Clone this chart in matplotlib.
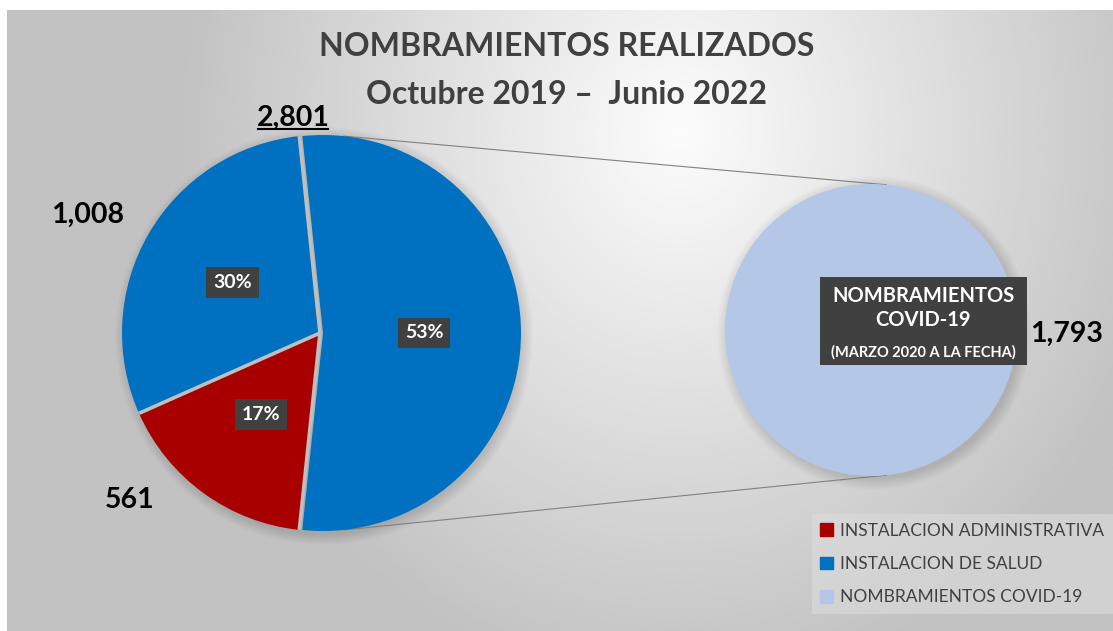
import numpy as np
import matplotlib
matplotlib.use('Agg')
import matplotlib.pyplot as plt
from matplotlib.patches import Patch, Circle, Rectangle

plt.rcParams['font.family'] = ['Lato', 'DejaVu Sans']

# Datos
categorias = ['INSTALACION ADMINISTRATIVA', 'INSTALACION DE SALUD', 'NOMBRAMIENTOS COVID-19']
administrativa = 561
salud = 1008
covid = 1793
colores = ['#A80000', '#0070C0', '#B4C7E7']

titulo1 = 'NOMBRAMIENTOS REALIZADOS'
titulo2 = 'Octubre 2019 \u2013  Junio 2022'
etiqueta_covid = 'NOMBRAMIENTOS\nCOVID-19'
etiqueta_covid2 = '(MARZO 2020 A LA FECHA)'

# orden del pie principal: covid (otros) -> salud -> administrativa
main_vals = [covid, salud, administrativa]
main_cols = [colores[1], colores[1], colores[0]]
total = sum(main_vals)
total_salud = salud + covid

W, H = 1113, 631
fig = plt.figure(figsize=(W / 100, H / 100), dpi=100)
fig.patch.set_facecolor('white')
ax = fig.add_axes([0, 0, 1, 1])

# fondo con degradado radial
xx, yy = np.meshgrid(np.linspace(7, W, 400), np.linspace(10, H, 300))
d = np.sqrt(((xx - 680) / 500) ** 2 + ((yy - 130) / 560) ** 2)
fondo = (252 - 58 * np.clip(d, 0, 1)) / 255
ax.imshow(fondo, cmap='gray', vmin=0, vmax=1, extent=(7, W, 0, H - 10),
          origin='upper', aspect='auto', interpolation='bilinear', zorder=0)

# pie principal
cx, cy, r = 320, H - 333, 198
start = -180 * main_vals[0] / total
for i in range(10):
    ax.add_patch(Circle((cx + 4, cy - 3), r + i * 1.2, color='k', alpha=0.012, lw=0, zorder=1))
wedges, _ = ax.pie(main_vals, colors=main_cols, startangle=start, center=(cx, cy), radius=r,
                   explode=[3, 0, 0], wedgeprops=dict(linewidth=0))
for w in wedges:
    w.set_zorder(2)

# separadores entre porciones
ang = start
for v in main_vals:
    a = np.radians(ang)
    ax.plot([cx, cx + r * np.cos(a)], [cy, cy + r * np.sin(a)], color='#BFBFBF', lw=2.6,
            solid_capstyle='butt', zorder=3)
    ang += 360 * v / total

# pie secundario
sx, sy, sr = 871, H - 330, 146
for i in range(10):
    ax.add_patch(Circle((sx + 3, sy - 3), sr + i * 1.2, color='k', alpha=0.012, lw=0, zorder=1))
w2, _ = ax.pie([covid], colors=[colores[2]], center=(sx, sy), radius=sr, startangle=90,
               wedgeprops=dict(linewidth=0))
for w in w2:
    w.set_zorder(2)

# lineas de conexion
for ang in (84, -84):
    a = np.radians(ang)
    ax.plot([cx + 3 + r * np.cos(a), sx + sr * np.cos(a)],
            [cy + r * np.sin(a), sy + sr * np.sin(a)], color='#808080', lw=0.8, zorder=1.5)

ax.set_xlim(0, W)
ax.set_ylim(0, H)
ax.set_aspect('auto')
ax.axis('off')

# porcentajes
caja = dict(boxstyle='square,pad=0.35', fc='#404040', ec='none')
ang = start
for v, dx in zip(main_vals, [3, 0, 0]):
    mid = np.radians(ang + 180 * v / total)
    ang += 360 * v / total
    ax.text(cx + dx + 0.51 * r * np.cos(mid), cy + 0.51 * r * np.sin(mid),
            '%d%%' % round(100 * v / total), color='white', fontsize=14, fontweight='bold',
            ha='center', va='center', bbox=caja, zorder=5)

# valores
fs_val = 20.5
ax.text(88, H - 215, '{:,}'.format(salud), fontsize=fs_val, fontweight='bold', ha='center', va='center')
ax.text(130, H - 500, '{:,}'.format(administrativa), fontsize=fs_val, fontweight='bold', ha='center', va='center')
ax.text(1030, H - 334, '{:,}'.format(covid), fontsize=fs_val, fontweight='bold', ha='left', va='center')
t_tot = ax.text(293, H - 118, '{:,}'.format(total_salud), fontsize=fs_val, fontweight='bold',
                ha='center', va='center')

# caja covid
ax.add_patch(Rectangle((820, H - 365), 207, 88, fc='#404040', ec='none', zorder=4))
ax.text(923, H - 308, etiqueta_covid, color='white', fontsize=14.5, fontweight='bold',
        ha='center', va='center', linespacing=1.3, zorder=6)
ax.text(923, H - 352, etiqueta_covid2, color='white', fontsize=10.5, fontweight='bold',
        ha='center', va='center', zorder=6)

# titulo
ax.text(567, H - 47, titulo1, color='#404040', fontsize=23, fontweight='bold',
        ha='center', va='center')
ax.text(567, H - 95, titulo2, color='#404040', fontsize=23, fontweight='bold',
        ha='center', va='center')

# leyenda
handles = [Patch(color=c) for c in colores]
leg = ax.legend(handles, categorias, loc='lower right', bbox_to_anchor=(1.0, (H - 614) / H),
                frameon=True, facecolor='#DCDCDC', framealpha=0.6, edgecolor='none',
                fontsize=12.5, handlelength=0.75, handleheight=0.75, handletextpad=0.4,
                labelspacing=1.0, borderaxespad=0, borderpad=0.5, fancybox=False)
for txt in leg.get_texts():
    txt.set_color('#404040')

# subrayado del total
fig.canvas.draw()
bb = t_tot.get_window_extent()
ax.plot([bb.x0 + 1, bb.x1 - 1], [bb.y0 + 2, bb.y0 + 2], color='black', lw=1.5, zorder=6)

fig.savefig('out.png', dpi=100)
